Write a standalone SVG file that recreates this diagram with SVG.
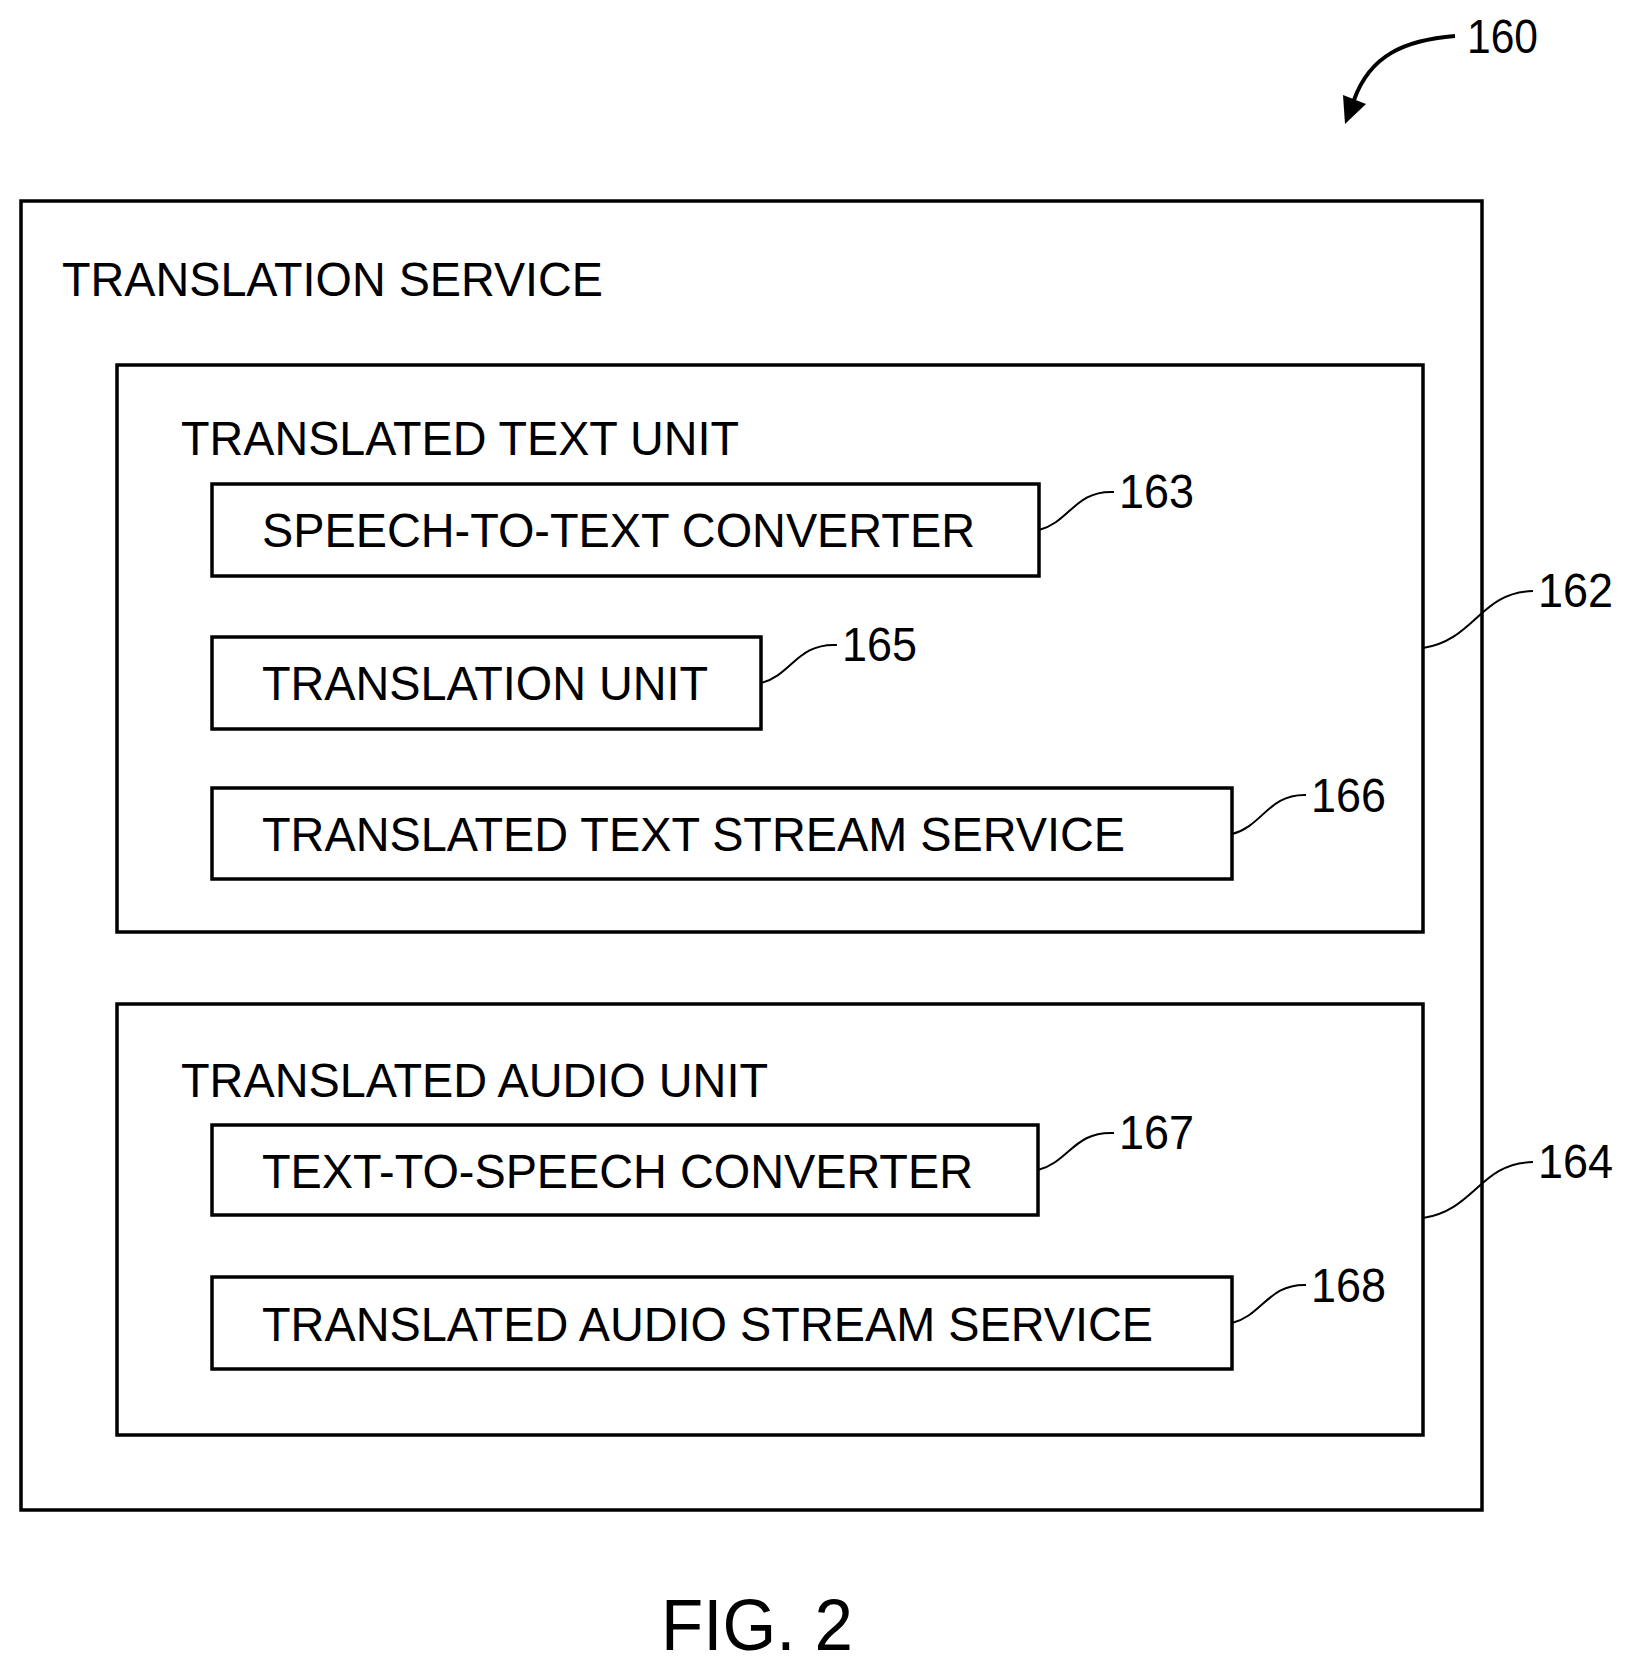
<svg xmlns="http://www.w3.org/2000/svg" width="1633" height="1671" viewBox="0 0 1633 1671">
<style>
.box{fill:none;stroke:#000;stroke-width:3.5}
.t{font-family:"Liberation Sans",Arial,sans-serif;font-size:48px;fill:#000}
.n{font-family:"Liberation Sans",Arial,sans-serif;font-size:48px;fill:#000}
.ld{fill:none;stroke:#000;stroke-width:2}
</style>
<rect width="1633" height="1671" fill="#fff"/>
<g id="translation-service"><rect class="box" x="21" y="201" width="1461" height="1309"/>
<text class="t" x="62" y="296" textLength="541" lengthAdjust="spacingAndGlyphs">TRANSLATION SERVICE</text></g>
<g id="text-unit"><rect class="box" x="117" y="365" width="1306" height="567"/>
<text class="t" x="181" y="455" textLength="558" lengthAdjust="spacingAndGlyphs">TRANSLATED TEXT UNIT</text></g>
<g id="stt"><rect class="box" x="212" y="484" width="827" height="92"/>
<text class="t" x="262" y="547" textLength="713" lengthAdjust="spacingAndGlyphs">SPEECH-TO-TEXT CONVERTER</text></g>
<g id="tu"><rect class="box" x="212" y="637" width="549" height="92"/>
<text class="t" x="262" y="700" textLength="446" lengthAdjust="spacingAndGlyphs">TRANSLATION UNIT</text></g>
<g id="ttss"><rect class="box" x="212" y="788" width="1020" height="91"/>
<text class="t" x="262" y="851" textLength="863" lengthAdjust="spacingAndGlyphs">TRANSLATED TEXT STREAM SERVICE</text></g>
<g id="audio-unit"><rect class="box" x="117" y="1004" width="1306" height="431"/>
<text class="t" x="181" y="1097" textLength="587" lengthAdjust="spacingAndGlyphs">TRANSLATED AUDIO UNIT</text></g>
<g id="tts"><rect class="box" x="212" y="1125" width="826" height="90"/>
<text class="t" x="262" y="1188" textLength="711" lengthAdjust="spacingAndGlyphs">TEXT-TO-SPEECH CONVERTER</text></g>
<g id="tass"><rect class="box" x="212" y="1277" width="1020" height="92"/>
<text class="t" x="262" y="1341" textLength="891" lengthAdjust="spacingAndGlyphs">TRANSLATED AUDIO STREAM SERVICE</text></g>
<g id="labels">
<text class="n" x="1467" y="53" textLength="71" lengthAdjust="spacingAndGlyphs">160</text>
<text class="n" x="1119" y="508" textLength="75" lengthAdjust="spacingAndGlyphs">163</text>
<text class="n" x="842" y="661" textLength="75" lengthAdjust="spacingAndGlyphs">165</text>
<text class="n" x="1311" y="812" textLength="75" lengthAdjust="spacingAndGlyphs">166</text>
<text class="n" x="1538" y="607" textLength="75" lengthAdjust="spacingAndGlyphs">162</text>
<text class="n" x="1119" y="1149" textLength="75" lengthAdjust="spacingAndGlyphs">167</text>
<text class="n" x="1538" y="1178" textLength="75" lengthAdjust="spacingAndGlyphs">164</text>
<text class="n" x="1311" y="1302" textLength="75" lengthAdjust="spacingAndGlyphs">168</text>
<text class="t" x="661" y="1650" style="font-size:72px" textLength="192" lengthAdjust="spacingAndGlyphs">FIG. 2</text>
</g>
<g id="connectors">
<path class="ld" d="M1039,530 C1070,522 1075,490 1114,492"/>
<path class="ld" d="M761,683 C792,675 797,643 837,645"/>
<path class="ld" d="M1232,834 C1263,826 1268,794 1306,795"/>
<path class="ld" d="M1423,648 C1475,640 1480,592 1533,591"/>
<path class="ld" d="M1038,1170 C1069,1162 1074,1131 1114,1133"/>
<path class="ld" d="M1423,1218 C1475,1210 1480,1163 1533,1162"/>
<path class="ld" d="M1232,1323 C1263,1315 1268,1284 1306,1285"/>
<path d="M1455,36 C1405,40 1370,55 1354,100" fill="none" stroke="#000" stroke-width="4"/>
<polygon points="1345,124 1343,95 1366,104" fill="#000"/>
</g>
</svg>
